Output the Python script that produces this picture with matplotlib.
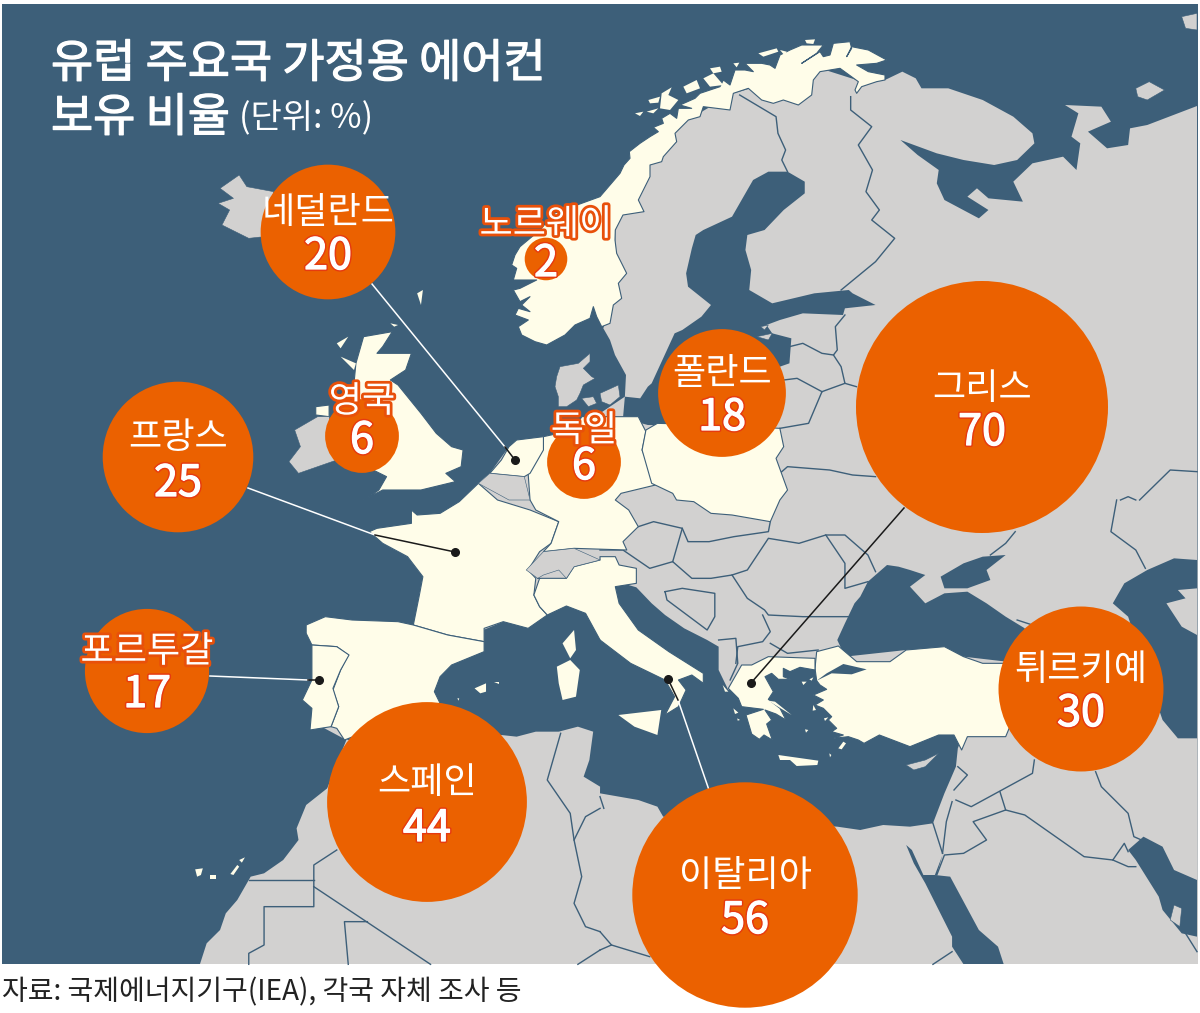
#!/usr/bin/env python
import numpy as np
import matplotlib.pyplot as plt
from matplotlib.patches import Circle, Polygon, Rectangle
import matplotlib.patheffects as pe

plt.rcParams['font.family'] = ['Noto Sans CJK KR', 'DejaVu Sans']

# Chart data
countries = ["그리스", "이탈리아", "스페인", "튀르키예", "프랑스", "네덜란드", "폴란드", "포르투갈", "영국", "독일", "노르웨이"]
values = [70, 56, 44, 30, 25, 20, 18, 17, 6, 6, 2]
bubble_x = [982, 745, 427, 1081, 178, 328, 722, 147, 362, 584, 546]
bubble_y = [407, 895, 802, 689, 457, 232, 393, 671, 436, 462, 259]
name_y = [386, 873, 780, 667, 435, 210, 371, 649, 399, 428, 222]
num_y = [430, 918, 826, 711, 481, 254, 415, 692, 438, 464, 261]
outlined = ["포르투갈", "영국", "독일", "노르웨이"]

SEA = "#3d5f79"
GREY = "#d2d1d0"
CREAM = "#fffde9"
ORANGE = "#eb6100"


def z(pts, ox, oy):
    return [(ox + a / 2.613, oy + b / 3.0) for a, b in pts]


def nw(pts): return z(pts, 0, 0)
def ne(pts): return z(pts, 600, 0)
def sw(pts): return z(pts, 0, 500)
def se(pts): return z(pts, 600, 500)


# the closer crops are a plain 3x
def c3(pts, ox, oy):
    return [(ox + a / 3.0, oy + b / 3.0) for a, b in pts]


def north(pts): return c3(pts, 620, 30)
def aegean(pts): return c3(pts, 700, 640)
def skag(pts): return c3(pts, 500, 240)


# Big grey land, sea gets painted over it afterwards
land = (north([(0, 480), (100, 330), (340, 190), (600, 115), (710, 150), (795, 150)])
        + ne([(790, 215), (825, 235), (840, 265), (910, 265), (1000, 300),
              (1080, 350), (1130, 400), (1135, 430), (1090, 480), (1030, 495), (950, 480), (880, 460), (785, 420),
              (830, 465), (885, 510), (880, 550), (900, 600), (990, 655), (1015, 630), (960, 590), (985, 565), (1015, 595),
              (1105, 605), (1080, 545), (1130, 490), (1210, 470), (1245, 510), (1255, 430), (1232, 410), (1250, 340),
              (1215, 315), (1310, 320), (1335, 365), (1275, 395), (1325, 445), (1380, 435), (1385, 385), (1430, 375),
              (1560, 318)])
        + [(1198, 964), (200, 964)]
        + sw([(540, 1330), (575, 1290), (590, 1240), (620, 1200), (655, 1130), (690, 1120), (740, 1080), (780, 1020),
              (775, 985), (800, 915), (855, 865), (905, 720), (840, 680), (840, 400), (860, 370), (1080, 385), (1095, 290),
              (1105, 230), (1065, 170), (1000, 130), (985, 95), (1075, 80), (1090, 50), (1150, 45), (1200, 10)])
        + nw([(1250, 1450), (1280, 1420), (1330, 1340), (1420, 1310), (1500, 1290)])
        + ne([(0, 1240), (65, 1190)])
        + skag([(378, 405), (345, 345), (330, 300), (310, 265), (330, 200)])
        + ne([(40, 770), (40, 690)]))

med = (sw([(905, 720), (1310, 705), (1350, 710), (1400, 695), (1460, 695), (1510, 680), (1550, 695), (1540, 780), (1525, 830), (1568, 860)])
       + se([(0, 880), (50, 890), (100, 900), (150, 920), (165, 950), (620, 980), (680, 990), (740, 975), (810, 980), (870, 970),
             (900, 880), (930, 800), (935, 745), (945, 715), (800, 650)])
       + aegean([(370, 120), (345, 70), (200, 70), (125, 90), (85, 150)])
       + se([(310, 510), (310, 440), (280, 420), (220, 385), (170, 345), (135, 310), (95, 262), (60, 250), (40, 255), (60, 400)])
       + sw([(1500, 300), (1315, 365), (1200, 420), (1100, 600)]))
black_sea = se([(620, 420), (640, 370), (665, 310), (680, 290), (700, 245), (750, 195), (780, 200), (810, 210), (850, 225), (810, 260),
                (850, 310), (900, 280), (960, 275), (1010, 310), (1060, 350), (1110, 385), (1100, 490), (800, 450), (640, 470)])
azov = se([(890, 230), (950, 190), (1000, 170), (1060, 165), (1010, 210), (1020, 240), (960, 265), (900, 265)])
caspian = se([(1340, 310), (1370, 250), (1430, 210), (1500, 175), (1560, 180), (1560, 265), (1510, 270), (1530, 295), (1480, 310),
              (1520, 380), (1560, 405), (1560, 715), (1510, 715), (1470, 660), (1440, 560), (1380, 350)])
red_sea = se([(800, 1035), (820, 1090), (850, 1150), (920, 1310), (920, 1340), (950, 1393), (1055, 1393), (1040, 1340), (990, 1290),
              (915, 1130), (875, 1125), (895, 1065), (880, 1125), (845, 1125), (815, 1050)])
gulf = se([(1380, 1050), (1420, 1010), (1470, 1040), (1500, 1110), (1560, 1140), (1560, 1310), (1520, 1300), (1470, 1230), (1460, 1190), (1400, 1080)])
baltic = ne([(490, 515), (535, 545), (535, 580), (480, 630), (430, 690), (385, 705), (380, 750), (395, 810), (390, 870), (450, 910),
             (560, 880), (650, 870), (660, 880), (720, 915), (640, 925), (635, 945), (530, 940), (470, 960), (435, 975), (450, 1000),
             (500, 1015), (495, 1090), (470, 1100), (300, 1280), (125, 1275), (60, 1255), (65, 1190), (105, 1195), (125, 1160), (135, 1150),
             (195, 1000), (215, 990), (265, 950), (290, 915), (230, 860), (225, 820), (240, 745), (250, 705), (270, 690), (345, 650),
             (375, 590), (400, 540), (440, 515)])
sea_polys = [med, black_sea, azov, caspian, red_sea, gulf, baltic]

# Cream countries, the ones in the chart
norway = (north([(0, 430), (12, 405), (30, 385), (28, 365), (60, 340), (90, 320), (115, 305), (100, 292), (130, 280), (125, 265), (150, 250), (170, 265),
                 (175, 235), (215, 235), (180, 225), (225, 205), (240, 190), (300, 170), (310, 150), (330, 165), (345, 120), (375, 120), (400, 125),
                 (375, 100), (425, 100), (450, 105), (465, 115), (480, 75), (510, 60), (545, 45), (610, 45), (590, 70), (545, 100), (600, 65), (610, 80),
                 (630, 75), (640, 40), (690, 35), (695, 55), (680, 80), (695, 50), (745, 60), (800, 90), (770, 100), (710, 105), (745, 125), (770, 130),
                 (795, 135), (795, 150), (770, 155), (725, 170), (710, 190), (705, 180), (715, 155), (660, 115), (600, 125), (580, 150), (575, 195),
                 (535, 225), (490, 210), (460, 220), (425, 210), (385, 175), (340, 190), (330, 240), (250, 230), (240, 260), (205, 270), (165, 310),
                 (170, 335), (130, 380), (125, 395), (90, 405), (90, 440), (55, 510)])
          + ne([(115, 635), (60, 645), (40, 690)])
          + skag([(345, 0), (350, 40), (380, 100), (355, 130), (365, 175), (340, 195), (330, 250), (305, 260), (290, 230), (280, 200), (270, 235), (225, 255),
                  (195, 285), (140, 315), (105, 305), (65, 285), (55, 260), (85, 240), (45, 225), (55, 205), (90, 215), (65, 195), (90, 170), (60, 185),
                  (40, 150), (60, 145), (110, 120), (40, 120), (50, 85), (35, 75), (45, 45), (60, 20), (120, -30)])
          + ne([(-120, 640), (0, 590)]))
france = (sw([(965, 95), (985, 85), (1075, 70), (1075, 30), (1090, 45), (1150, 40), (1200, 5)])
          + nw([(1250, 1450), (1300, 1500)])
          + sw([(1385, 30), (1460, 65), (1440, 130), (1410, 155), (1380, 210), (1400, 235), (1395, 285), (1410, 320), (1430, 345), (1380, 385),
                (1315, 365), (1265, 385), (1265, 425), (1170, 405), (1080, 375), (1095, 290), (1105, 230), (1065, 170), (1000, 130)]))
spain = sw([(800, 375), (850, 350), (920, 360), (1040, 365), (1080, 375), (1170, 405), (1265, 425), (1265, 455), (1180, 495), (1150, 530),
            (1135, 575), (1150, 610), (900, 720), (880, 685), (865, 680), (885, 620), (870, 570), (890, 510), (910, 465), (880, 440),
            (815, 435), (800, 400)])
portugal = sw([(815, 435), (880, 440), (912, 465), (890, 510), (870, 565), (885, 620), (865, 680), (810, 690), (815, 625), (790, 600), (815, 540), (815, 480)])
italy = (sw([(1405, 235), (1480, 235), (1500, 200), (1568, 180)])
         + se([(0, 170), (40, 170), (50, 195), (95, 205), (95, 250), (40, 260), (50, 310), (100, 390), (180, 455), (270, 520), (270, 550), (240, 525),
               (205, 540), (225, 570), (205, 620), (170, 645), (195, 590), (170, 540), (80, 490), (0, 420)])
         + sw([(1568, 420), (1530, 340), (1480, 318), (1430, 345), (1410, 320), (1395, 285), (1410, 235)]))
germany = (ne([(30, 1250), (100, 1250), (120, 1295), (110, 1350), (135, 1420), (145, 1455), (55, 1480)])
           + se([(40, 0), (75, 30), (100, 80), (60, 125), (70, 150)])
           + sw([(1500, 145), (1420, 155), (1440, 130), (1460, 65), (1400, 30)])
           + nw([(1385, 1500), (1380, 1420), (1410, 1350), (1420, 1310), (1500, 1290), (1520, 1250)]))
netherlands = nw([(1350, 1320), (1420, 1310), (1420, 1350), (1385, 1420), (1370, 1430), (1280, 1420), (1310, 1380), (1330, 1340)])
poland = (ne([(120, 1290), (150, 1270), (300, 1275), (470, 1285), (480, 1340), (460, 1375), (490, 1470), (470, 1500)])
          + se([(445, 65), (345, 45), (290, 40), (245, 5), (200, 0)])
          + ne([(190, 1480), (135, 1450), (110, 1350)]))
uk = (nw([(950, 1010), (1025, 995), (1000, 1040), (985, 1060), (1075, 1060), (1060, 1110), (1020, 1140), (1040, 1155), (1100, 1240), (1140, 1300),
          (1180, 1340), (1210, 1350), (1205, 1400), (1165, 1420), (1190, 1445), (1100, 1470), (1000, 1470), (950, 1500)])
      + sw([(945, 5)])
      + nw([(990, 1470), (1010, 1430), (975, 1410), (920, 1300), (925, 1150), (930, 1090)]))
n_ireland = nw([(825, 1220), (860, 1215), (860, 1250), (825, 1245)])
turkey = (aegean([(350, 35), (415, 18), (470, 65), (570, 65)])
          + se([(800, 450), (900, 440), (950, 470), (1000, 490), (1060, 490), (1100, 600),
                (1060, 710), (960, 710), (945, 750), (925, 705), (885, 705), (810, 740), (730, 705), (690, 730)])
          + aegean([(475, 300), (445, 290), (400, 295), (430, 285), (395, 275), (410, 265), (385, 240), (395, 230), (370, 205), (345, 195), (370, 180),
                    (340, 165), (380, 148), (360, 135), (350, 122), (345, 85)]))
greece = aegean([(85, 145), (125, 75), (155, 75), (205, 50), (345, 55), (345, 90), (300, 82), (270, 95), (250, 85), (250, 110), (272, 118), (235, 118), (215, 100),
                 (195, 110), (220, 155), (205, 178), (240, 205), (258, 240), (228, 222), (195, 210), (215, 240), (200, 252), (217, 300), (192, 285), (178, 298),
                 (155, 282), (138, 225), (190, 208), (125, 200), (115, 175)])
evia = aegean([(205, 182), (225, 185), (275, 225), (250, 210)])
corsica = sw([(1470, 430), (1500, 390), (1505, 450), (1490, 475)])
sardinia = sw([(1455, 500), (1490, 480), (1515, 510), (1505, 590), (1470, 600), (1460, 550)])
sicily = se([(48, 645), (160, 630), (150, 705), (90, 680)])
crete = aegean([(235, 345), (270, 350), (355, 362), (352, 375), (290, 378), (270, 360), (240, 360)])
lofoten = north([(45, 250), (70, 245), (60, 258)]), north([(80, 245), (115, 235), (100, 250)]), north([(85, 210), (120, 200), (115, 218), (90, 220)]), \
    north([(125, 190), (155, 172), (145, 195), (175, 210), (150, 240), (120, 235)]), north([(190, 170), (230, 150), (240, 175), (200, 190)]), \
    north([(250, 145), (280, 130), (310, 165), (270, 170)]), north([(270, 115), (300, 110), (305, 125), (280, 130)]), north([(340, 100), (358, 98), (350, 112)]), \
    north([(415, 70), (470, 55), (475, 65), (430, 80)]), north([(480, 60), (500, 65), (495, 78)]), north([(555, 30), (585, 28), (580, 42), (560, 40)])
aegean_isles = aegean([(305, 125), (320, 125), (310, 135)]), aegean([(328, 118), (340, 112), (335, 122)]), aegean([(340, 195), (348, 210), (338, 212)]), \
    aegean([(372, 235), (385, 232), (375, 243)]), aegean([(315, 268), (325, 270), (318, 278)]), aegean([(415, 325), (430, 305), (438, 310), (425, 328)]), \
    aegean([(388, 340), (394, 345), (390, 352)]), aegean([(100, 205), (115, 218), (105, 222)]), aegean([(112, 235), (120, 240), (113, 242)]), \
    aegean([(68, 135), (85, 155), (75, 155)])
other_isles = sw([(1240, 565), (1270, 550), (1270, 575), (1255, 580)]), sw([(1290, 545), (1305, 545), (1305, 552)]), sw([(1195, 595), (1200, 595), (1198, 602)]), \
    sw([(510, 1108), (530, 1105), (525, 1125), (515, 1130)]), sw([(550, 1125), (565, 1125), (565, 1138), (550, 1138)]), \
    sw([(602, 1122), (620, 1095), (625, 1100), (610, 1125)]), sw([(625, 1080), (640, 1072), (632, 1088)]), \
    nw([(1090, 880), (1105, 870), (1100, 915)]), nw([(1020, 970), (1040, 975), (1030, 980)]), nw([(880, 1030), (910, 1010), (890, 1045)]), \
    nw([(890, 1070), (930, 1090), (925, 1110)])
creams = [norway, france, spain, portugal, italy, germany, netherlands, poland, uk, n_ireland, turkey, greece]
small_creams = [evia, corsica, sardinia, sicily, crete] + list(lofoten) + list(aegean_isles) + list(other_isles)

# Grey bits on top of the cream ones
marmara = aegean([(380, 100), (430, 72), (500, 88), (455, 103), (395, 100), (350, 122)])
iceland = nw([(575, 565), (625, 525), (645, 560), (715, 575), (690, 710), (650, 715), (580, 675), (600, 630), (570, 610), (610, 595)])
ireland = nw([(770, 1290), (830, 1250), (860, 1250), (870, 1300), (880, 1380), (780, 1420), (755, 1385), (785, 1340)])
denmark = skag([(170, 410), (180, 380), (235, 370), (270, 340), (270, 365), (250, 385), (275, 410), (285, 415), (250, 435), (240, 460), (230, 480), (200, 500),
                 (175, 500), (175, 470), (165, 440)])
funen = skag([(245, 475), (280, 470), (290, 490), (265, 500)])
zealand = skag([(300, 460), (355, 435), (360, 470), (330, 495), (305, 485)])
belgium = nw([(1250, 1450), (1280, 1420), (1370, 1430), (1385, 1500), (1330, 1500)])
switzerland = sw([(1375, 210), (1420, 155), (1500, 145), (1568, 180), (1500, 200), (1480, 235), (1460, 210), (1420, 225), (1405, 235)])
cyprus = se([(800, 795), (850, 780), (885, 760), (850, 800), (820, 810)])
qatar = se([(1500, 1215), (1520, 1225), (1515, 1280), (1490, 1260)])
kolguev = ne([(1400, 265), (1435, 245), (1475, 270), (1430, 300), (1405, 290)])
novaya = ne([(1520, 50), (1560, 40), (1560, 90), (1530, 85)])
estonia_isles = ne([(410, 1010), (450, 1000), (440, 1020)]), ne([(420, 980), (440, 975), (430, 990)])
greys = [iceland, ireland, denmark, funen, zealand, belgium, switzerland, cyprus, qatar, kolguev, novaya] + list(estonia_isles)

borders = [
    ne([(365, 285), (460, 350), (465, 400), (485, 450), (475, 480), (490, 515)]),
    ne([(655, 290), (655, 330), (710, 380), (675, 435), (712, 510), (695, 575), (730, 630), (710, 660), (770, 715), (720, 785), (630, 870)]),
    ne([(640, 945), (615, 980), (620, 1050), (610, 1065), (630, 1100), (640, 1150), (580, 1175), (545, 1270), (470, 1285)]),
    ne([(495, 1040), (530, 1030), (580, 1060), (610, 1065)]),
    ne([(480, 1140), (515, 1135), (580, 1175)]),
    ne([(640, 1150), (670, 1160)]),
    ne([(470, 1420), (490, 1400), (600, 1410), (660, 1425), (720, 1430)]),
    ne([(1360, 1500), (1380, 1490), (1400, 1500)]),
    ne([(1410, 1500), (1490, 1410), (1560, 1415)]),
    se([(0, 150), (60, 150), (130, 205), (190, 185), (195, 165), (215, 85), (140, 65), (100, 80)]),
    se([(215, 85), (230, 125), (285, 125), (350, 110), (440, 95), (445, 65)]),
    se([(190, 185), (240, 235), (290, 235), (345, 225), (385, 210), (440, 115), (520, 130), (590, 105), (640, 105), (700, 165), (720, 215)]),
    se([(590, 105), (640, 190), (640, 265), (700, 245)]),
    se([(345, 225), (385, 295), (430, 330), (440, 345), (530, 350), (660, 350)]),
    se([(425, 345), (445, 395), (425, 425), (360, 440), (355, 490)]),
    se([(445, 430), (490, 460), (570, 450)]),
    se([(170, 275), (175, 300), (280, 390), (300, 350), (300, 280), (215, 265), (170, 275)]),
    se([(310, 420), (355, 415), (360, 490), (340, 540)]),
    se([(1090, 360), (1130, 375)]),
    se([(1135, 780), (1130, 820), (970, 920), (930, 900)]),
    se([(1045, 875), (1060, 930), (975, 965), (1010, 1020), (950, 1060), (900, 1065), (880, 1125)]),
    se([(1060, 930), (1110, 945), (1265, 1070), (1340, 1080), (1370, 1030), (1380, 1055)]),
    se([(1295, 815), (1310, 860), (1380, 940), (1395, 1010), (1415, 1020)]),
    se([(870, 970), (895, 1060)]),
    se([(920, 905), (905, 965), (895, 1060)]),
    se([(935, 800), (960, 825), (925, 870)]),
    se([(1085, 95), (1060, 130), (1020, 165)]),
    se([(1350, 0), (1335, 95), (1400, 150), (1425, 205)]),
    se([(1340, 1080), (1380, 1100), (1400, 1100)]),
    se([(0, 890), (10, 925)]),
    se([(0, 1295), (30, 1335), (130, 1370)]),
    se([(0, 1350), (30, 1335)]),
    se([(870, 1393), (920, 1355)]),
    se([(1530, 1300), (1560, 1355)]),
    sw([(880, 1050), (820, 1095), (820, 1220), (690, 1220), (690, 1335), (650, 1360), (650, 1393)]),
    sw([(650, 1140), (820, 1140)]),
    sw([(820, 1160), (1125, 1393)]),
    sw([(960, 1265), (900, 1265), (910, 1393)]),
    sw([(1465, 700), (1430, 840), (1490, 940), (1500, 1020), (1520, 1130), (1500, 1210), (1530, 1280), (1568, 1295)]),
    sw([(1500, 1020), (1530, 950), (1568, 925)]),
    sw([(1510, 1393), (1568, 1350)]),
]

# Leader lines, (white part, black part)
leaders = [
    ([(372, 284), (505, 447)], [(505, 447), (515, 460)]),
    ([(248, 488), (375, 535)], [(375, 535), (455, 552)]),
    ([(210, 676), (308, 680)], [(308, 680), (319, 680)]),
    ([(709, 790), (678, 700)], [(678, 700), (668, 679)]),
    ([], [(904, 508), (751, 683)]),
]

fig = plt.figure(figsize=(12, 10.13), dpi=100)
ax = fig.add_axes([0, 0, 1, 1])
ax.set_xlim(0, 1200)
ax.set_ylim(1013, 0)
ax.axis("off")

panel = Rectangle((2, 4), 1196, 960, facecolor=SEA, edgecolor="none", zorder=1)
ax.add_patch(panel)


def fill(pts, color, zo, edge="none", lw=0):
    p = Polygon(pts, closed=True, facecolor=color, edgecolor=edge, linewidth=lw, joinstyle="round", zorder=zo)
    ax.add_patch(p)
    p.set_clip_path(panel)


fill(land, GREY, 2)
for s in sea_polys:
    fill(s, SEA, 3)
for b in borders:
    xs, ys = zip(*b)
    ax.plot(xs, ys, color=SEA, lw=1.0, zorder=4, clip_path=panel)
for c in creams:
    fill(c, CREAM, 5, edge=SEA, lw=0.8)
for c in small_creams:
    fill(c, CREAM, 5)
for g in greys:
    fill(g, GREY, 6, edge=SEA, lw=0.4)
fill(marmara, SEA, 6)

for white_part, black_part in leaders:
    if white_part:
        xs, ys = zip(*white_part)
        ax.plot(xs, ys, color="white", lw=1.1, zorder=7)
    xs, ys = zip(*black_part)
    ax.plot(xs, ys, color="#1a1a1a", lw=1.1, zorder=7)
    ax.plot(xs[-1], ys[-1], "o", color="#1a1a1a", ms=5.5, zorder=8)

# area of the circle goes with the value
scale = 15.06
for name, v, bx, by, ny, vy in zip(countries, values, bubble_x, bubble_y, name_y, num_y):
    r = scale * np.sqrt(v)
    ax.add_patch(Circle((bx, by), r, facecolor=ORANGE, edgecolor="none", zorder=9))
    t1 = ax.text(bx, ny + 3, name, color="white", fontsize=26, ha="center", va="center", zorder=10)
    t2 = ax.text(bx, vy + 3, str(v), color="white", fontsize=31, ha="center", va="center", zorder=10)
    if name in outlined:
        t1.set_path_effects([pe.withStroke(linewidth=4, foreground="#e8500a")])
    t2.set_path_effects([pe.withStroke(linewidth=3, foreground="#e63a10"), pe.withStroke(linewidth=0.9, foreground="white")])

fat = [pe.withStroke(linewidth=0.9, foreground="white")]
ax.text(51, 64, "유럽 주요국 가정용 에어컨", color="white", fontsize=33, va="center", zorder=11, path_effects=fat)
ax.text(51, 118, "보유 비율", color="white", fontsize=33, va="center", zorder=11, path_effects=fat)
ax.text(239, 118, "(단위: %)", color="white", fontsize=24.5, fontweight="light", va="center", zorder=11)
ax.text(2, 992, "자료: 국제에너지기구(IEA), 각국 자체 조사 등", color="#222222", fontsize=20.2, fontweight="light", va="center", zorder=11)

fig.savefig("out.png", dpi=100)
